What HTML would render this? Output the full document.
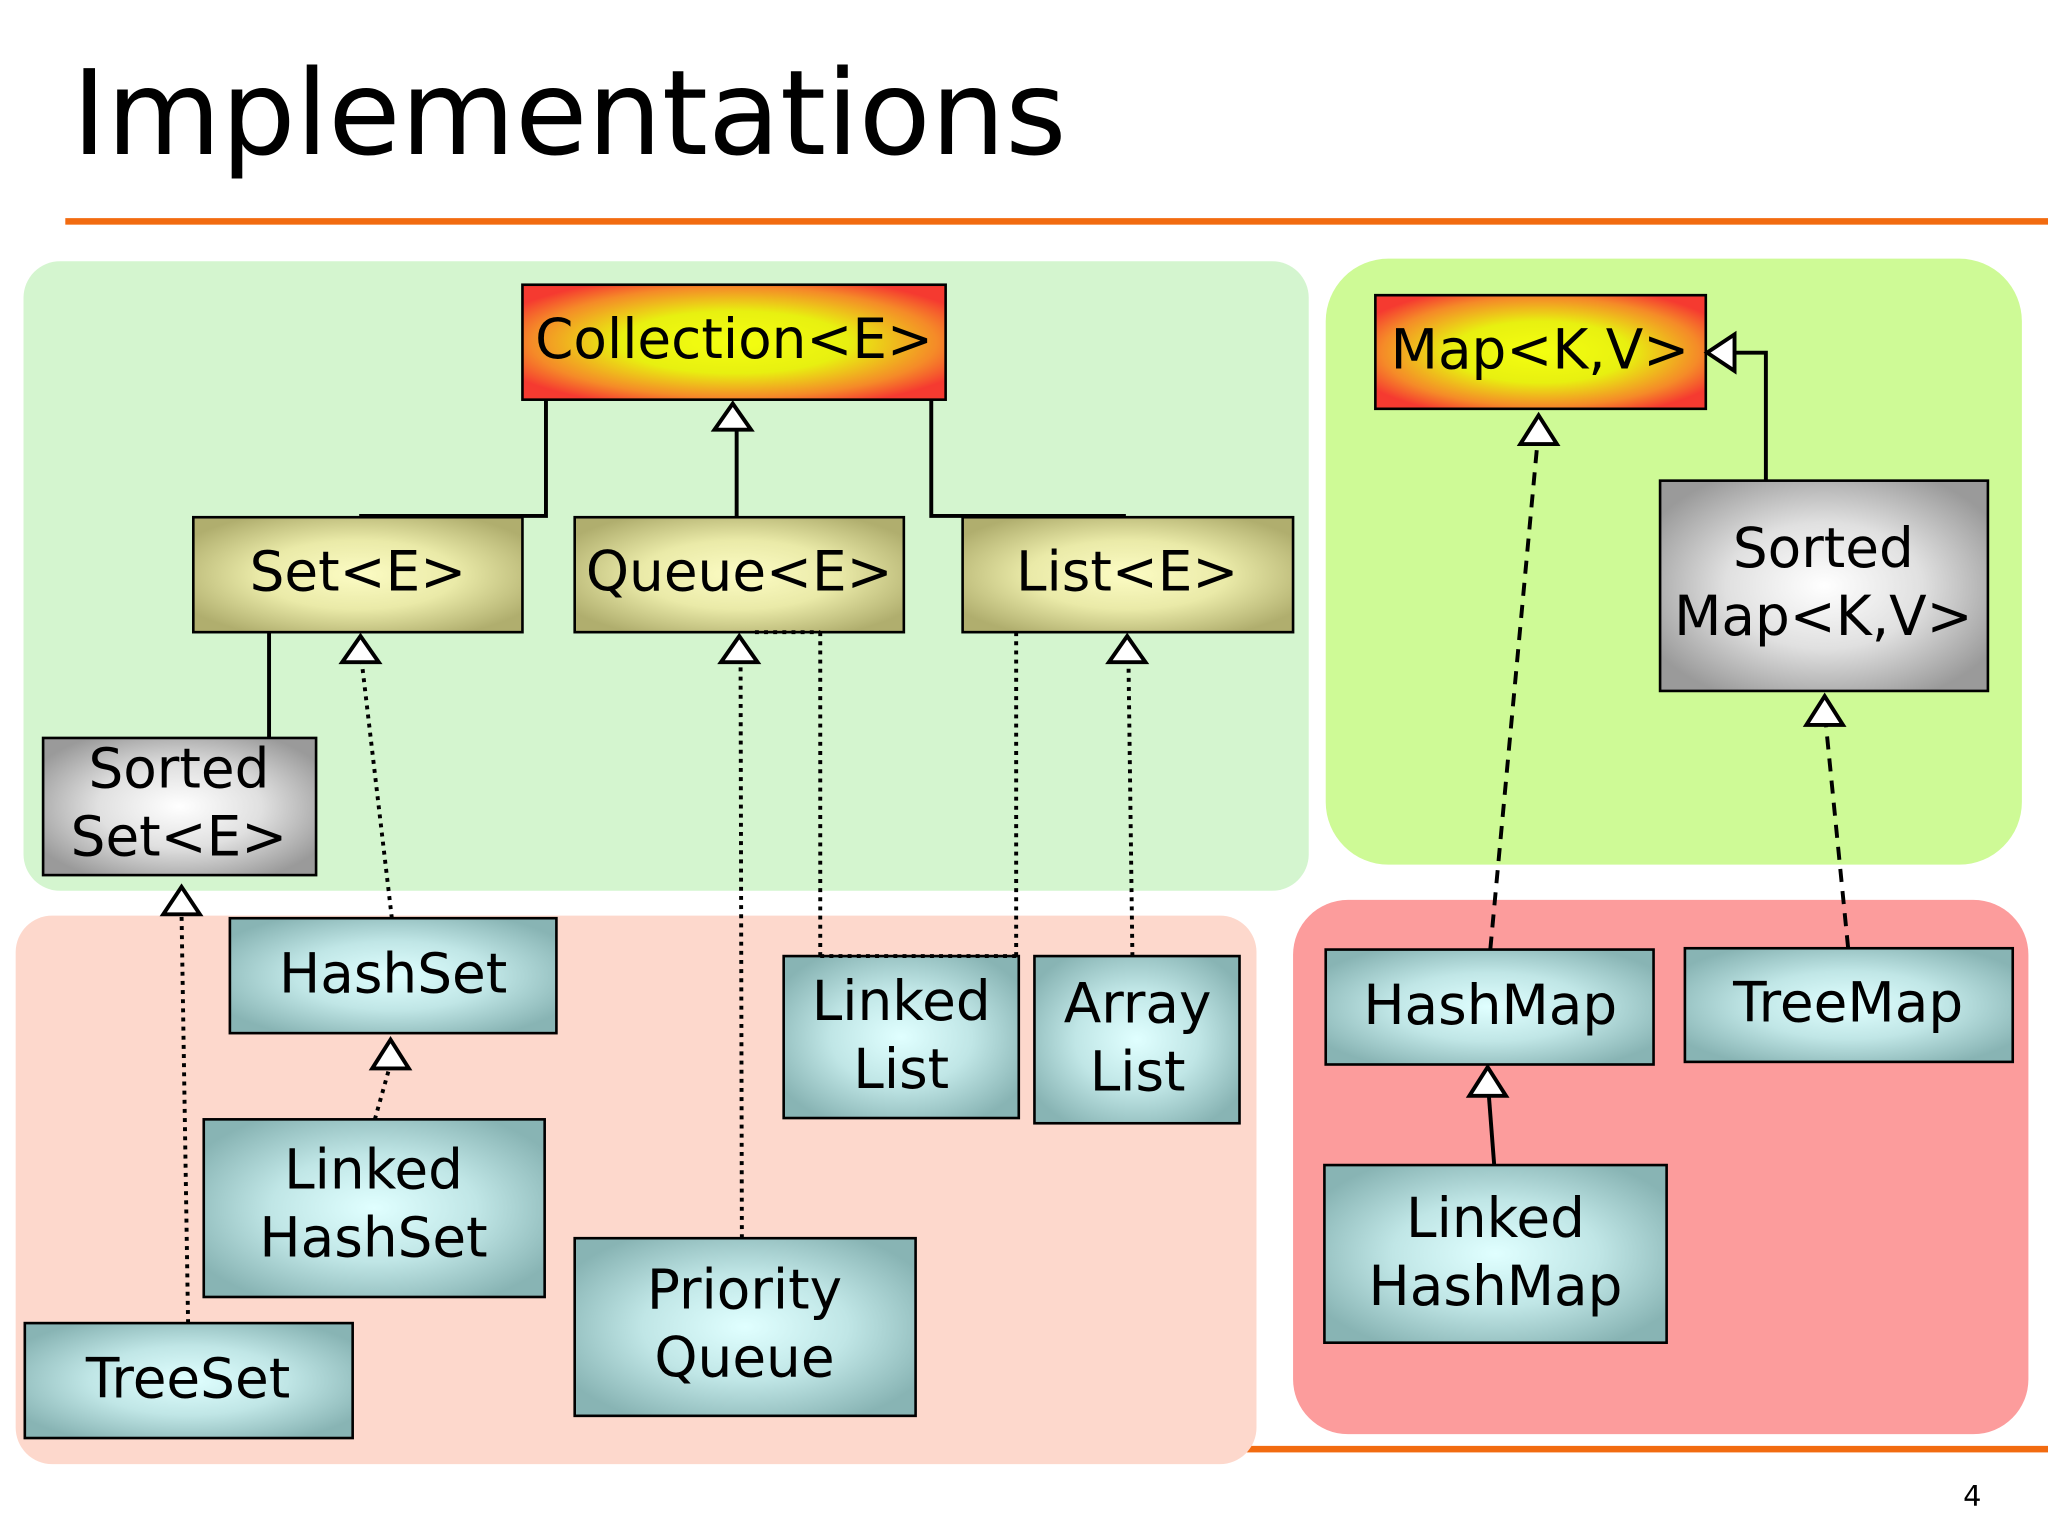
<!DOCTYPE html>
<html><head><meta charset="utf-8"><style>html,body{margin:0;padding:0;background:#fff}svg{display:block}</style></head>
<body>
<svg width="2048" height="1536" viewBox="0 0 1568 1176" xmlns="http://www.w3.org/2000/svg" font-family="'DejaVu Sans','Liberation Sans',sans-serif">
<defs>
<radialGradient id="red" cx="50%" cy="50%" r="60%"><stop offset="0" stop-color="#f4ff10"/><stop offset="0.45" stop-color="#e8f010"/><stop offset="0.8" stop-color="#f58a28"/><stop offset="1" stop-color="#f53a30"/></radialGradient>
<radialGradient id="olive" cx="50%" cy="50%" r="60%"><stop offset="0" stop-color="#fcfcc4"/><stop offset="0.5" stop-color="#eaeaa8"/><stop offset="1" stop-color="#b0ae6e"/></radialGradient>
<radialGradient id="gray" cx="50%" cy="50%" r="60%"><stop offset="0" stop-color="#ffffff"/><stop offset="0.5" stop-color="#e0e0e0"/><stop offset="1" stop-color="#9a9a9a"/></radialGradient>
<radialGradient id="teal" cx="50%" cy="50%" r="60%"><stop offset="0" stop-color="#e0ffff"/><stop offset="0.5" stop-color="#c0e6e6"/><stop offset="1" stop-color="#88b4b4"/></radialGradient>
</defs>
<text x="55" y="118" font-size="90" fill="#000">Implementations</text>
<rect x="50" y="167" width="1518" height="5" fill="#f26b10"/>
<rect x="940" y="1107" width="628" height="5" fill="#f26b10"/>
<text x="1503" y="1153" font-size="22">4</text>

<rect x="18" y="200" width="984" height="482" rx="28" fill="#d4f5cf"/>
<rect x="12" y="701" width="950" height="420" rx="28" fill="#fdd8cc"/>
<rect x="1015" y="198" width="533" height="464" rx="48" fill="#cefa96"/>
<rect x="990" y="689" width="563" height="409" rx="42" fill="#fc9c9c"/>

<g stroke="#000" stroke-width="2" font-size="40" text-anchor="middle">
<rect x="400" y="218" width="324" height="88" fill="url(#red)"/>
<rect x="148" y="396" width="252" height="88" fill="url(#olive)"/>
<rect x="440" y="396" width="252" height="88" fill="url(#olive)"/>
<rect x="737" y="396" width="253" height="88" fill="url(#olive)"/>
<rect x="33" y="565" width="209" height="105" fill="url(#gray)"/>
<rect x="176" y="703" width="250" height="88" fill="url(#teal)"/>
<rect x="156" y="857" width="261" height="136" fill="url(#teal)"/>
<rect x="19" y="1013" width="251" height="88" fill="url(#teal)"/>
<rect x="440" y="948" width="261" height="136" fill="url(#teal)"/>
<rect x="600" y="732" width="180" height="124" fill="url(#teal)"/>
<rect x="792" y="732" width="157" height="128" fill="url(#teal)"/>
<rect x="1053" y="226" width="253" height="87" fill="url(#red)"/>
<rect x="1271" y="368" width="251" height="161" fill="url(#gray)"/>
<rect x="1015" y="727" width="251" height="88" fill="url(#teal)"/>
<rect x="1290" y="726" width="251" height="87" fill="url(#teal)"/>
<rect x="1014" y="892" width="262" height="136" fill="url(#teal)"/>
</g>
<g font-size="42" text-anchor="middle" fill="#000">
<text x="562" y="274">Collection&lt;E&gt;</text>
<text x="274" y="452">Set&lt;E&gt;</text>
<text x="566" y="452">Queue&lt;E&gt;</text>
<text x="863" y="452">List&lt;E&gt;</text>
<text x="137" y="603">Sorted</text><text x="137" y="655">Set&lt;E&gt;</text>
<text x="301" y="760">HashSet</text>
<text x="286" y="910">Linked</text><text x="286" y="962">HashSet</text>
<text x="144" y="1070">TreeSet</text>
<text x="570" y="1002">Priority</text><text x="570" y="1054">Queue</text>
<text x="690" y="781">Linked</text><text x="690" y="833">List</text>
<text x="871" y="783">Array</text><text x="871" y="835">List</text>
<text x="1179" y="282">Map&lt;K,V&gt;</text>
<text x="1396" y="434">Sorted</text><text x="1396" y="486">Map&lt;K,V&gt;</text>
<text x="1141" y="784">HashMap</text>
<text x="1415" y="782">TreeMap</text>
<text x="1145" y="947">Linked</text><text x="1145" y="999">HashMap</text>
</g>

<g fill="none" stroke="#000" stroke-width="3">
<polyline points="418,306 418,395 275,395"/>
<polyline points="713,306 713,395 862,395"/>
<line x1="564" y1="329" x2="564" y2="396"/>
<line x1="206" y1="484" x2="206" y2="565"/>
<line x1="1144" y1="892" x2="1140" y2="840"/>
<polyline points="1352,368 1352,270 1328,270"/>
</g>
<g fill="none" stroke="#000" stroke-width="3" stroke-dasharray="3,4">
<line x1="144" y1="1013" x2="139" y2="700"/>
<line x1="300" y1="703" x2="277" y2="507"/>
<line x1="287" y1="857" x2="298" y2="818"/>
<line x1="568" y1="948" x2="567" y2="507"/>
<line x1="628" y1="484" x2="628" y2="732"/>
<line x1="578" y1="484" x2="628" y2="484"/>
<line x1="778" y1="484" x2="778" y2="732"/>
<line x1="628" y1="732" x2="778" y2="732"/>
<line x1="867" y1="732" x2="864" y2="507"/>
</g>
<g fill="none" stroke="#000" stroke-width="3" stroke-dasharray="10,7">
<line x1="1141" y1="727" x2="1177" y2="340"/>
<line x1="1415" y1="726" x2="1398" y2="555"/>
</g>
<g fill="#fff" stroke="#000" stroke-width="3">
<polygon points="561,309 547,329 575,329"/>
<polygon points="139,679 125,700 153,700"/>
<polygon points="276,487 262,507 290,507"/>
<polygon points="299,796 285,818 313,818"/>
<polygon points="566,487 552,507 580,507"/>
<polygon points="863,487 849,507 877,507"/>
<polygon points="1178,318 1164,340 1192,340"/>
<polygon points="1397,533 1383,555 1411,555"/>
<polygon points="1139,817 1125,839 1153,839"/>
<polygon points="1307,270 1328,256 1328,284"/>
</g>
</svg>
</body></html>
